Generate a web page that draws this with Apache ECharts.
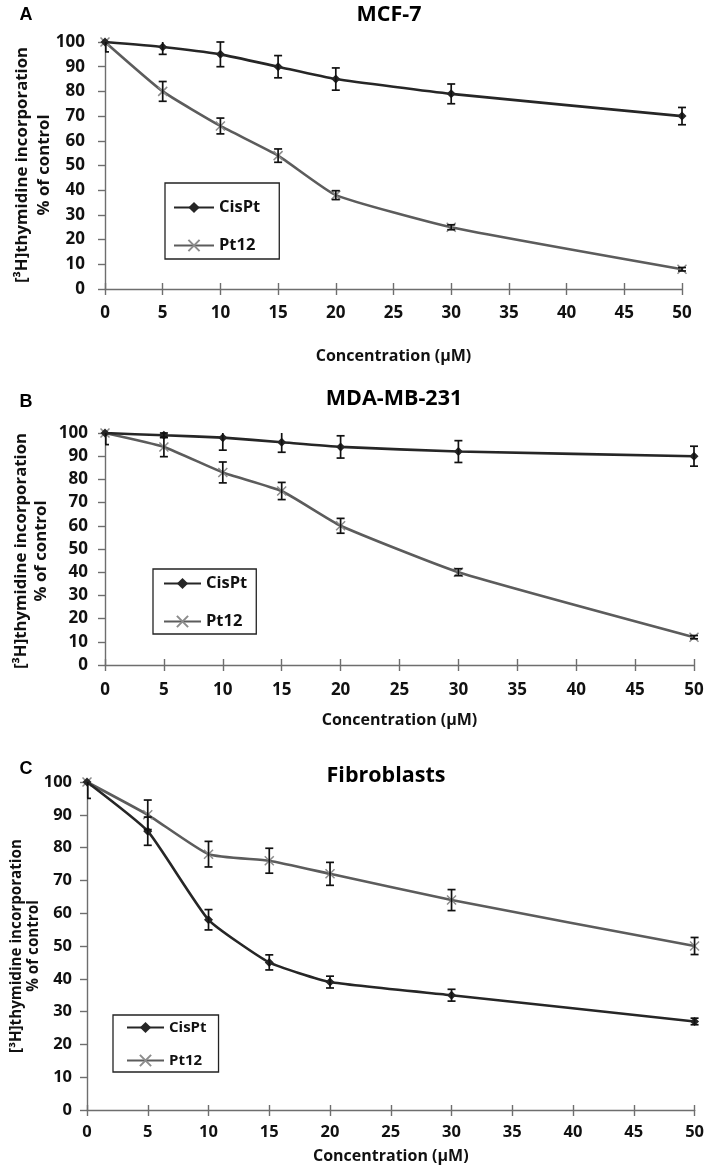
<!DOCTYPE html>
<html>
<head>
<meta charset="utf-8">
<script src="https://cdn.jsdelivr.net/npm/echarts@6/dist/echarts.min.js"></script>
<style>
html,body{margin:0;padding:0;background:#fff;}
#c{width:707px;height:1165px;}
</style>
</head>
<body>
<div id="c"></div>
<script>
// ---- data ----
const concentrations = [0, 5, 10, 15, 20, 30, 50];
const yTicks = [0, 10, 20, 30, 40, 50, 60, 70, 80, 90, 100];
const xTicks = [0, 5, 10, 15, 20, 25, 30, 35, 40, 45, 50];
const seriesNames = ['CisPt', 'Pt12'];
const panelTitles = ['MCF-7', 'MDA-MB-231', 'Fibroblasts'];
const panelLetters = ['A', 'B', 'C'];

const cisPtMCF7 = [100, 98, 95, 90, 85, 79, 70];
const cisPtMCF7Err = [4, 3, 5, 4.5, 4.5, 4, 3.5];
const pt12MCF7 = [100, 80, 66, 54, 38, 25, 8];
const pt12MCF7Err = [0, 4, 3.2, 2.7, 1.8, 1, 0.7];

const cisPtMDA = [100, 99, 98, 96, 94, 92, 90];
const cisPtMDAErr = [5, 1, 5.4, 4.3, 4.8, 4.7, 4.3];
const pt12MDA = [100, 94, 83, 75, 60, 40, 12];
const pt12MDAErr = [0, 4.2, 4.5, 3.7, 3.2, 1.5, 0.7];

const cisPtFibro = [100, 85, 58, 45, 39, 35, 27];
const cisPtFibroErr = [5, 4.3, 3.1, 2.3, 1.8, 1.8, 1];
const pt12Fibro = [100, 90, 78, 76, 72, 64, 50];
const pt12FibroErr = [0, 4.5, 3.9, 3.8, 3.5, 3.2, 2.6];

const xAxisTitle = 'Concentration (µM)';
const yAxisTitle = '[³H]thymidine incorporation\n% of control';

// ---- layout ----
const FONT = '"Open Sans", "Noto Sans", sans-serif';
const grids = [
  {left: 105, top: 42, width: 577, height: 247},
  {left: 105, top: 433, width: 589, height: 232},
  {left: 87, top: 782, width: 611, height: 329}
];
const tickFS = [17, 17, 16.5];
const labelMarginX = [16, 17, 14];
const labelMarginY = [20, 17, 15];
const nameGapX = [59, 47, 38];
const titlePos = [[389, 15], [394, 399], [386, 776]];
const letterPos = [[26, 15], [26, 402], [26, 769]];
const yNamePos = [[33, 165], [31, 551], [25, 946]];
const yNameLH = [22, 20, 17];
const yNameFS = [16.8, 16.8, 15.2];
const legends = [
  {left: 165, top: 183, padding: [16, 19, 5, 8], itemGap: 21, itemWidth: 40, fs: 16.5},
  {left: 153, top: 569, padding: [6, 9, 4, 10], itemGap: 21, itemWidth: 37, fs: 16.5},
  {left: 113, top: 1015, padding: [5, 12, 4, 13], itemGap: 18, itemWidth: 37, fs: 15}
];

const panelData = [
  [cisPtMCF7, cisPtMCF7Err, pt12MCF7, pt12MCF7Err],
  [cisPtMDA, cisPtMDAErr, pt12MDA, pt12MDAErr],
  [cisPtFibro, cisPtFibroErr, pt12Fibro, pt12FibroErr]
];

const axisGray = '#6e6e6e';
const cisColor = '#262626';
const ptColor = '#5c5c5c';
const ptMarker = '#8c8c8c';
const X_SYMBOL = 'path://M0,0L10,10M10,0L0,10';

function errRender(params, api) {
  const cs = params.coordSys;
  const x = api.value(0), lo = api.value(1), hi = api.value(2);
  const a = api.coord([x, lo]), b = api.coord([x, hi]);
  const w = 4;
  const top = cs.y, bot = cs.y + cs.height, left = cs.x;
  const st = {stroke: '#111', lineWidth: 1.7, fill: null};
  const y1 = Math.min(Math.max(a[1], top), bot);
  const y2 = Math.min(Math.max(b[1], top), bot);
  const children = [
    {type: 'line', shape: {x1: Math.max(a[0], left + 0.8), y1: y1, x2: Math.max(a[0], left + 0.8), y2: y2}, style: st}
  ];
  [a, b].forEach(p => {
    if (p[1] >= top - 0.5 && p[1] <= bot + 0.5) {
      children.push({type: 'line', shape: {x1: Math.max(p[0] - w, left), y1: p[1], x2: p[0] + w, y2: p[1]}, style: st});
    }
  });
  return {type: 'group', children: children};
}

const option = {
  backgroundColor: '#fff',
  animation: false,
  grid: grids.map(g => Object.assign({containLabel: false}, g)),
  xAxis: [],
  yAxis: [],
  legend: [],
  series: [],
  graphic: []
};

grids.forEach((g, i) => {
  option.xAxis.push({
    type: 'value', gridIndex: i, min: xTicks[0], max: xTicks[xTicks.length - 1],
    interval: xTicks[1] - xTicks[0], position: 'bottom',
    name: xAxisTitle, nameLocation: 'middle', nameGap: nameGapX[i],
    nameTextStyle: {fontFamily: FONT, fontWeight: 'bold', fontSize: 16, color: '#111'},
    axisLine: {lineStyle: {color: axisGray, width: 1.4}},
    axisTick: {show: true, inside: false, length: 6, lineStyle: {color: axisGray, width: 1.4}},
    axisLabel: {margin: labelMarginX[i], fontFamily: FONT, fontWeight: 'bold', fontSize: tickFS[i], color: '#111'},
    splitLine: {show: false}
  });
  option.yAxis.push({
    type: 'value', gridIndex: i, min: yTicks[0], max: yTicks[yTicks.length - 1],
    interval: yTicks[1] - yTicks[0],
    axisLine: {show: true, lineStyle: {color: axisGray, width: 1.4}},
    axisTick: {show: true, inside: false, length: 7, lineStyle: {color: axisGray, width: 1.4}},
    axisLabel: {margin: labelMarginY[i], fontFamily: FONT, fontWeight: 'bold', fontSize: tickFS[i], color: '#111'},
    splitLine: {show: false}
  });
});
// secondary x axes: inward half of the crossing tick marks
grids.forEach((g, i) => {
  option.xAxis.push({
    type: 'value', gridIndex: i, min: xTicks[0], max: xTicks[xTicks.length - 1],
    interval: xTicks[1] - xTicks[0], position: 'top', offset: -g.height,
    axisLine: {show: false},
    axisTick: {show: true, inside: false, length: 6, lineStyle: {color: axisGray, width: 1.4}},
    axisLabel: {show: false},
    splitLine: {show: false}
  });
});

grids.forEach((g, i) => {
  const [cis, cisErr, pt, ptErr] = panelData[i];
  option.series.push({
    name: seriesNames[0], type: 'line', xAxisIndex: i, yAxisIndex: i, z: 3,
    smooth: 0.15, symbol: 'diamond', symbolSize: 9, showSymbol: true,
    itemStyle: {color: cisColor},
    lineStyle: {color: cisColor, width: 2.6},
    data: concentrations.map((x, k) => [x, cis[k]])
  });
  option.series.push({
    name: seriesNames[1], type: 'line', xAxisIndex: i, yAxisIndex: i, z: 2,
    smooth: 0.15, symbol: X_SYMBOL, symbolSize: 9, showSymbol: true,
    itemStyle: {color: 'rgba(0,0,0,0)', borderColor: ptMarker, borderWidth: 1.5},
    lineStyle: {color: ptColor, width: 2.6},
    data: concentrations.map((x, k) => [x, pt[k]])
  });
  [[cis, cisErr], [pt, ptErr]].forEach(([vals, errs]) => {
    option.series.push({
      type: 'custom', xAxisIndex: i, yAxisIndex: i, z: 5,
      renderItem: errRender, silent: true,
      encode: {x: 0, y: [1, 2]},
      data: concentrations.map((x, k) => [x, vals[k] - errs[k], vals[k] + errs[k]]).filter((d, k) => errs[k] > 0)
    });
  });

  const L = legends[i];
  option.legend.push({
    data: seriesNames, orient: 'vertical', left: L.left, top: L.top,
    padding: L.padding, itemGap: L.itemGap, itemWidth: L.itemWidth, itemHeight: 14,
    borderColor: '#222', borderWidth: 1.3, borderRadius: 0, backgroundColor: '#fff',
    selectedMode: false,
    textStyle: {fontFamily: FONT, fontWeight: 'bold', fontSize: L.fs, lineHeight: 14, color: '#111'}
  });

  option.graphic.push({
    type: 'text', x: titlePos[i][0], y: titlePos[i][1],
    style: {text: panelTitles[i], font: 'bold 21.5px ' + FONT, fill: '#000', textAlign: 'center', textVerticalAlign: 'middle', align: 'center', verticalAlign: 'middle'}
  });
  option.graphic.push({
    type: 'text', x: letterPos[i][0], y: letterPos[i][1],
    style: {text: panelLetters[i], font: 'bold 18px "Liberation Sans", Arial, sans-serif', fill: '#000', textAlign: 'center', textVerticalAlign: 'middle', align: 'center', verticalAlign: 'middle'}
  });
  option.graphic.push({
    type: 'text', x: yNamePos[i][0], y: yNamePos[i][1], rotation: Math.PI / 2,
    style: {text: yAxisTitle, font: 'bold ' + yNameFS[i] + 'px ' + FONT, lineHeight: yNameLH[i], fill: '#111',
      textAlign: 'center', textVerticalAlign: 'middle', align: 'center', verticalAlign: 'middle'}
  });
});

const chart = echarts.init(document.getElementById('c'), null, {renderer: 'canvas'});
chart.setOption(option);
</script>
</body>
</html>
